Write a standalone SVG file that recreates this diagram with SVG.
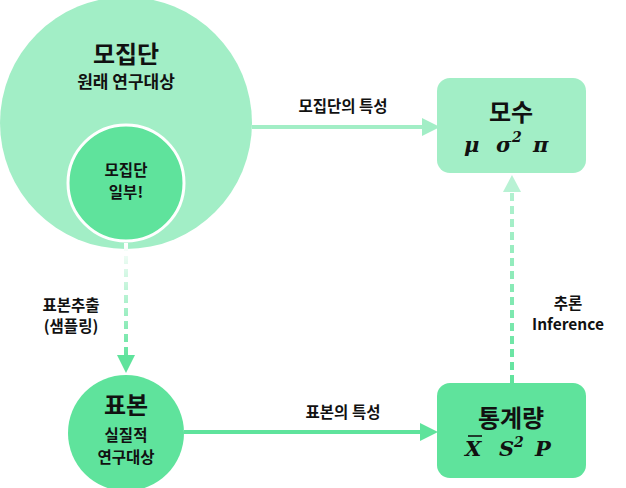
<svg xmlns="http://www.w3.org/2000/svg" width="626" height="488" viewBox="0 0 626 488">
<defs>
<style>
.t{font-family:"Noto Sans CJK KR","Noto Sans",sans-serif;fill:#111;text-anchor:middle;font-weight:700}
.m{font-family:"DejaVu Serif","Liberation Serif",serif;font-weight:700;font-style:italic;fill:#111}
</style>
<linearGradient id="gv1" gradientUnits="userSpaceOnUse" x1="0" y1="243" x2="0" y2="360">
<stop offset="0" stop-color="#ffffff"/><stop offset="1" stop-color="#5fe39c"/>
</linearGradient>
<linearGradient id="gv2" gradientUnits="userSpaceOnUse" x1="0" y1="383" x2="0" y2="178">
<stop offset="0" stop-color="#5fe39c"/><stop offset="1" stop-color="#b8f2d4"/>
</linearGradient>
</defs>
<g id="population">
<circle cx="126" cy="123" r="126" fill="#a2eec6"/>
<text class="t" x="126" y="63" font-size="24">모집단</text>
<text class="t" x="126" y="88" font-size="17">원래 연구대상</text>
</g>
<g id="population-part">
<circle cx="126" cy="183" r="58" fill="#5fe39c" stroke="#ffffff" stroke-width="3"/>
<text class="t" x="126" y="176" font-size="15.5">모집단</text>
<text class="t" x="126" y="198" font-size="15.5">일부!</text>
</g>
<g id="sample">
<circle cx="126" cy="433" r="58" fill="#5fe39c"/>
<text class="t" x="126" y="414" font-size="24">표본</text>
<text class="t" x="126" y="441" font-size="15.5">실질적</text>
<text class="t" x="126" y="463" font-size="15.5">연구대상</text>
</g>
<g id="parameter">
<rect x="437" y="78" width="149" height="95" rx="13" fill="#a2eec6"/>
<text class="t" x="511" y="121" font-size="24">모수</text>
<text class="m" x="464" y="152" font-size="21">μ</text>
<text class="m" x="496" y="152" font-size="21">σ</text>
<text class="m" x="512" y="142" font-size="14">2</text>
<text class="m" x="533" y="152" font-size="21">π</text>
</g>
<g id="statistic">
<rect x="437" y="383" width="149" height="95" rx="13" fill="#5fe39c"/>
<text class="t" x="511" y="427" font-size="24">통계량</text>
<text class="m" x="465" y="456" font-size="21">X</text>
<line x1="468" y1="436" x2="482" y2="436" stroke="#111" stroke-width="1.6"/>
<text class="m" x="499" y="456" font-size="21">S</text>
<text class="m" x="514" y="447" font-size="14">2</text>
<text class="m" x="535" y="456" font-size="21">P</text>
</g>
<g id="connectors">
<line x1="252" y1="127" x2="424" y2="127" stroke="#a2eec6" stroke-width="4"/>
<polygon points="440,127 422,118 422,136" fill="#a2eec6"/>
<line x1="184" y1="432" x2="422" y2="432" stroke="#5fe39c" stroke-width="4"/>
<polygon points="438,432 420,423 420,441" fill="#5fe39c"/>
<line x1="126" y1="243" x2="126" y2="357" stroke="url(#gv1)" stroke-width="4" stroke-dasharray="8 5"/>
<polygon points="126,373 117,355 135,355" fill="#5fe39c"/>
<line x1="512" y1="383" x2="512" y2="190" stroke="url(#gv2)" stroke-width="4" stroke-dasharray="8 5"/>
<polygon points="512,175 503,192 521,192" fill="#b8f2d4"/>
<text class="t" x="343" y="112" font-size="15.5">모집단의 특성</text>
<text class="t" x="343" y="418" font-size="15.5">표본의 특성</text>
<text class="t" x="71" y="311" font-size="15.5">표본추출</text>
<text class="t" x="71" y="332" font-size="15.5">(샘플링)</text>
<text class="t" x="568" y="309" font-size="15.5">추론</text>
<text class="t" x="568" y="330" font-size="15.5">Inference</text>
</g>
</svg>
